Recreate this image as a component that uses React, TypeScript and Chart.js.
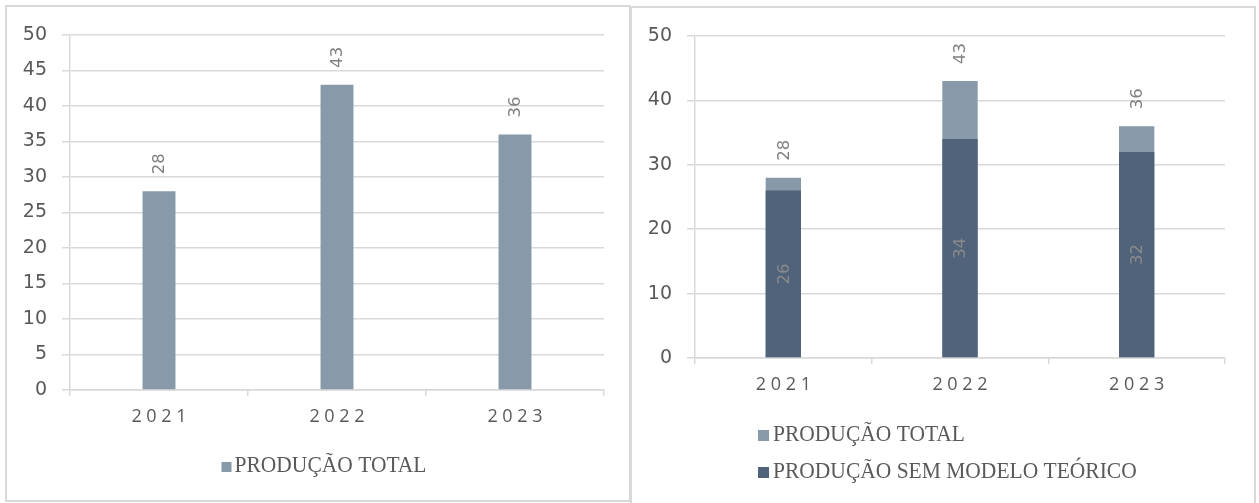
import React, { useEffect, useRef } from "react";
import { Chart, registerables } from "chart.js";

Chart.register(...registerables);

// ---------- data ----------
const years = ["2021", "2022", "2023"];
const producaoTotal = [28, 43, 36];
const producaoSemModelo = [26, 34, 32];
const labelTotal = "PRODUÇÃO TOTAL";
const labelSemModelo = "PRODUÇÃO SEM MODELO TEÓRICO";
const leftAxisMax = 50;
const leftAxisStep = 5;
const rightAxisMax = 50;
const rightAxisStep = 10;

// ---------- styles ----------
const COLOR_LIGHT = "#8899aa";
const COLOR_DARK = "#51637b";
const GRID = "#d9d9d9";
const TEXT = "#595959";
const LABEL_GRAY = "#808080";

const barLabelPlugin = {
  id: "barLabels",
  afterDatasetsDraw(chart: any) {
    const ctx = chart.ctx;
    chart.data.datasets.forEach((ds: any, i: number) => {
      const cfg = ds.valueLabel;
      if (!cfg) return;
      const meta = chart.getDatasetMeta(i);
      meta.data.forEach((bar: any, j: number) => {
        const { x, y, base } = bar.getProps(["x", "y", "base"], true);
        ctx.save();
        ctx.font = '16.5px "DejaVu Sans"';
        ctx.fillStyle = cfg.color;
        ctx.textBaseline = "middle";
        if (cfg.pos === "top") {
          ctx.translate(x + 1, y - cfg.offset);
          ctx.textAlign = "left";
        } else {
          ctx.translate(x + 1, (y + base) / 2);
          ctx.textAlign = "center";
        }
        ctx.rotate(-Math.PI / 2);
        ctx.fillText(String(ds.data[j]), 0, 0);
        ctx.restore();
      });
    });
  },
};

const serifLegendPlugin = {
  id: "serifLegend",
  afterDraw(chart: any, _args: any, opts: any) {
    const ctx = chart.ctx;
    ctx.save();
    ctx.font = '21.5px "Liberation Serif"';
    ctx.textBaseline = "alphabetic";
    ctx.textAlign = "left";
    chart.data.datasets.forEach((ds: any, i: number) => {
      const text = ds.label;
      const tw = ctx.measureText(text).width;
      const total = opts.box + opts.gap + tw;
      const left = opts.align === "center" ? opts.x - total / 2 : opts.x;
      const base = opts.y + i * opts.lineGap;
      ctx.fillStyle = ds.backgroundColor;
      ctx.fillRect(left, base - opts.box, opts.box, opts.box);
      ctx.fillStyle = TEXT;
      ctx.save();
      ctx.translate(left + opts.box + opts.gap, base);
      ctx.scale(1, 1.1);
      ctx.fillText(text, 0, 0);
      ctx.restore();
    });
    ctx.restore();
  },
};

function buildOptions(p: {
  yMax: number;
  yStep: number;
  padding: any;
  barPct: number;
  legend: any;
}) {
  return {
    responsive: false,
    animation: false,
    devicePixelRatio: 1,
    layout: { padding: p.padding, autoPadding: false },
    plugins: {
      legend: { display: false },
      tooltip: { enabled: false },
      serifLegend: p.legend,
    },
    datasets: {
      bar: { grouped: false, categoryPercentage: 1, barPercentage: p.barPct },
    },
    scales: {
      x: {
        grid: {
          offset: true,
          drawOnChartArea: false,
          drawTicks: true,
          tickLength: 6,
          color: GRID,
          lineWidth: 1.5,
        },
        border: { display: true, color: GRID, width: 1.5 },
        ticks: {
          color: TEXT,
          font: { family: "Open Sans", size: 18 },
          padding: 10,
          maxRotation: 0,
          callback: function (this: any, value: any) {
            return String(this.getLabelForValue(value)).split("").join(" ");
          },
        },
        afterFit: (s: any) => {
          s.height = 50;
        },
      },
      y: {
        min: 0,
        max: p.yMax,
        ticks: {
          stepSize: p.yStep,
          color: TEXT,
          font: { family: "DejaVu Sans", size: 19 },
          padding: 15,
        },
        grid: { color: GRID, lineWidth: 1.5, tickLength: 8, drawTicks: true },
        border: { display: true, color: GRID, width: 1.5 },
        afterFit: (s: any) => {
          s.width = 63;
        },
      },
    },
  };
}

function ChartCanvas({ width, height, makeConfig }: any) {
  const ref = useRef<HTMLCanvasElement | null>(null);
  useEffect(() => {
    if (!ref.current) return;
    const chart = new Chart(ref.current, makeConfig());
    return () => chart.destroy();
  }, []);
  return (
    <canvas
      ref={ref}
      width={width}
      height={height}
      style={{ display: "block", width, height }}
    />
  );
}

const leftConfig = () => ({
  type: "bar",
  data: {
    labels: years,
    datasets: [
      {
        label: labelTotal,
        data: producaoTotal,
        backgroundColor: COLOR_LIGHT,
        valueLabel: { pos: "top", offset: 17, color: LABEL_GRAY },
      },
    ],
  },
  options: buildOptions({
    yMax: leftAxisMax,
    yStep: leftAxisStep,
    padding: { left: 0, right: 25, top: 28, bottom: 60 },
    barPct: 0.185,
    legend: { x: 317, y: 465, lineGap: 37, box: 10, gap: 3, align: "center" },
  }),
  plugins: [barLabelPlugin, serifLegendPlugin],
});

const rightConfig = () => ({
  type: "bar",
  data: {
    labels: years,
    datasets: [
      {
        label: labelTotal,
        data: producaoTotal,
        backgroundColor: COLOR_LIGHT,
        order: 1,
        valueLabel: { pos: "top", offset: 17, color: LABEL_GRAY },
      },
      {
        label: labelSemModelo,
        data: producaoSemModelo,
        backgroundColor: COLOR_DARK,
        order: 0,
        valueLabel: { pos: "center", color: "#8a8a8a" },
      },
    ],
  },
  options: buildOptions({
    yMax: rightAxisMax,
    yStep: rightAxisStep,
    padding: { left: 0, right: 29, top: 28, bottom: 95 },
    barPct: 0.2,
    legend: { x: 126, y: 433, lineGap: 37, box: 11, gap: 4, align: "left" },
  }),
  plugins: [barLabelPlugin, serifLegendPlugin],
});

export default function App() {
  return (
    <div
      style={{
        position: "absolute",
        left: 0,
        top: 0,
        width: 1259,
        height: 503,
        overflow: "hidden",
        background: "#ffffff",
      }}
    >
      <div
        style={{
          position: "absolute",
          left: 5,
          top: 5,
          width: 622,
          height: 493,
          border: `2px solid ${GRID}`,
        }}
      >
        <ChartCanvas width={622} height={493} makeConfig={leftConfig} />
      </div>
      <div
        style={{
          position: "absolute",
          left: 630,
          top: 6,
          width: 622,
          height: 497,
          border: `2px solid ${GRID}`,
        }}
      >
        <ChartCanvas width={622} height={495} makeConfig={rightConfig} />
      </div>
    </div>
  );
}
